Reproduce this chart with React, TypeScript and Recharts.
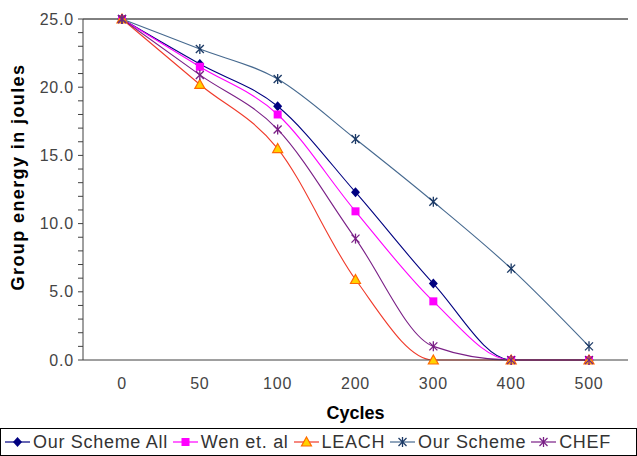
import { Legend, Line, LineChart, ReferenceLine, XAxis, YAxis } from "recharts";

const cycles = ["0", "50", "100", "200", "300", "400", "500"];

const ourSchemeAll = [25, 21.7, 18.6, 12.3, 5.6, 0, 0];
const wenEtAl = [25, 21.5, 18.0, 10.9, 4.3, 0, 0];
const leach = [25, 20.2, 15.5, 5.9, 0, 0, 0];
const ourScheme = [25, 22.8, 20.6, 16.2, 11.6, 6.7, 1.0];
const chef = [25, 20.9, 16.9, 8.9, 1.0, 0, 0];

const yTicks = [
  0, 1, 2, 3, 4, 5, 6, 7, 8, 9, 10, 11, 12, 13, 14, 15, 16, 17, 18, 19, 20,
  21, 22, 23, 24, 25,
];
const minorXTicks = [0, 1, 2, 3, 4, 5, 6, 7, 8, 9, 10, 11, 12, 13, 14];

type Shape = "diamond" | "square" | "triangle" | "star";

type SeriesDef = {
  key: string;
  name: string;
  stroke: string;
  shape: Shape;
  fill: string;
  markStroke: string;
};

const series: SeriesDef[] = [
  { key: "ourSchemeAll", name: "Our Scheme All", stroke: "#000080", shape: "diamond", fill: "#000080", markStroke: "#000080" },
  { key: "wen", name: "Wen et. al", stroke: "#ff00ff", shape: "square", fill: "#ff00ff", markStroke: "#ff00ff" },
  { key: "leach", name: "LEACH", stroke: "#f03a2a", shape: "triangle", fill: "#ffd200", markStroke: "#ff6a00" },
  { key: "ourScheme", name: "Our Scheme", stroke: "#46698f", shape: "star", fill: "none", markStroke: "#1c3a66" },
  { key: "chef", name: "CHEF", stroke: "#7a1f86", shape: "star", fill: "none", markStroke: "#7a1f86" },
];

const data = cycles.map((cycle, i) => ({
  cycle,
  ourSchemeAll: ourSchemeAll[i],
  wen: wenEtAl[i],
  leach: leach[i],
  ourScheme: ourScheme[i],
  chef: chef[i],
}));

const FONT = '"Liberation Sans", Arial, sans-serif';

function Marker({ cx, cy, s }: { cx: number; cy: number; s: SeriesDef }) {
  if (cx == null || cy == null) return null;
  if (s.shape === "diamond") {
    return (
      <polygon
        points={`${cx},${cy - 5} ${cx + 4.5},${cy} ${cx},${cy + 5} ${cx - 4.5},${cy}`}
        fill={s.fill}
      />
    );
  }
  if (s.shape === "square") {
    return <rect x={cx - 4} y={cy - 4} width={8} height={8} fill={s.fill} />;
  }
  if (s.shape === "triangle") {
    return (
      <polygon
        points={`${cx},${cy - 5} ${cx + 5},${cy + 4} ${cx - 5},${cy + 4}`}
        fill={s.fill}
        stroke={s.markStroke}
        strokeWidth={1.2}
      />
    );
  }
  return (
    <g stroke={s.markStroke} strokeWidth={1.3}>
      <line x1={cx - 4} y1={cy - 4} x2={cx + 4} y2={cy + 4} />
      <line x1={cx - 4} y1={cy + 4} x2={cx + 4} y2={cy - 4} />
      <line x1={cx} y1={cy - 5} x2={cx} y2={cy + 5} />
    </g>
  );
}

function LegendBox() {
  return (
    <div
      style={{
        boxSizing: "border-box",
        width: 637,
        height: 28,
        border: "1px solid #000",
        display: "flex",
        alignItems: "center",
        paddingLeft: 4,
        fontFamily: FONT,
        fontSize: 18,
        letterSpacing: 0.7,
        color: "#333",
        whiteSpace: "nowrap",
      }}
    >
      {series.map((s) => (
        <span key={s.key} style={{ display: "flex", alignItems: "center", marginRight: 5 }}>
          <svg width={25} height={14} style={{ marginRight: 3 }}>
            <line x1={0} y1={7} x2={25} y2={7} stroke={s.stroke} strokeWidth={1.2} />
            <Marker cx={12.5} cy={7} s={s} />
          </svg>
          {s.name}
        </span>
      ))}
    </div>
  );
}

export default function App() {
  return (
    <div style={{ width: 637, height: 456, background: "#fff" }}>
      <style>{"body{margin:0}"}</style>
      <LineChart
        width={637}
        height={456}
        data={data}
        margin={{ top: 19, right: 9, left: 0, bottom: 0 }}
      >
        <XAxis
          xAxisId="minor"
          type="number"
          domain={[0, 14]}
          ticks={minorXTicks}
          allowDataOverflow
          tick={false}
          axisLine={false}
          tickLine={{ stroke: "#404040" }}
          tickSize={5}
          height={0}
        />
        <XAxis
          dataKey="cycle"
          padding={{ left: 39, right: 39 }}
          axisLine={{ stroke: "#404040" }}
          tickLine={false}
          tickSize={6}
          tickMargin={12}
          height={68}
          tick={{ fontSize: 16, fill: "#444", fontFamily: FONT, letterSpacing: 0.8 }}
          label={{
            content: ({ viewBox }: any) => (
              <text
                x={viewBox.x + viewBox.width / 2}
                y={viewBox.y + 59}
                textAnchor="middle"
                fontSize={18}
                fontWeight="bold"
                fontFamily={FONT}
                fill="#000"
              >
                Cycles
              </text>
            ),
          }}
        />
        <YAxis
          domain={[0, 25]}
          ticks={yTicks}
          interval={0}
          width={83}
          axisLine={{ stroke: "#404040" }}
          tickLine={{ stroke: "#404040" }}
          tickSize={5}
          tickMargin={4}
          tickFormatter={(v: number) => (v % 5 === 0 ? v.toFixed(1) : "")}
          tick={{ fontSize: 16, fill: "#444", fontFamily: FONT, letterSpacing: 0.8 }}
          label={{
            content: () => {
              const cx = 18;
              const cy = 177;
              return (
                <text
                  x={cx}
                  y={cy}
                  transform={`rotate(-90 ${cx} ${cy})`}
                  textAnchor="middle"
                  dominantBaseline="central"
                  fontSize={18}
                  fontWeight="bold"
                  fontFamily={FONT}
                  letterSpacing={1.4}
                  fill="#000"
                >
                  Group energy in joules
                </text>
              );
            },
          }}
        />
        <YAxis
          yAxisId="right"
          orientation="right"
          domain={[0, 25]}
          width={0}
          tick={false}
          tickLine={false}
          axisLine={{ stroke: "#000" }}
        />
        <ReferenceLine y={25} stroke="#000" />
        {series.map((s) => (
          <Line
            key={s.key}
            type="monotone"
            dataKey={s.key}
            name={s.name}
            stroke={s.stroke}
            strokeWidth={1.1}
            isAnimationActive={false}
            dot={(props: any) => (
              <Marker key={`${s.key}-${props.index}`} cx={props.cx} cy={props.cy} s={s} />
            )}
            activeDot={false}
          />
        ))}
        <Legend verticalAlign="bottom" height={28} content={() => <LegendBox />} />
      </LineChart>
    </div>
  );
}
